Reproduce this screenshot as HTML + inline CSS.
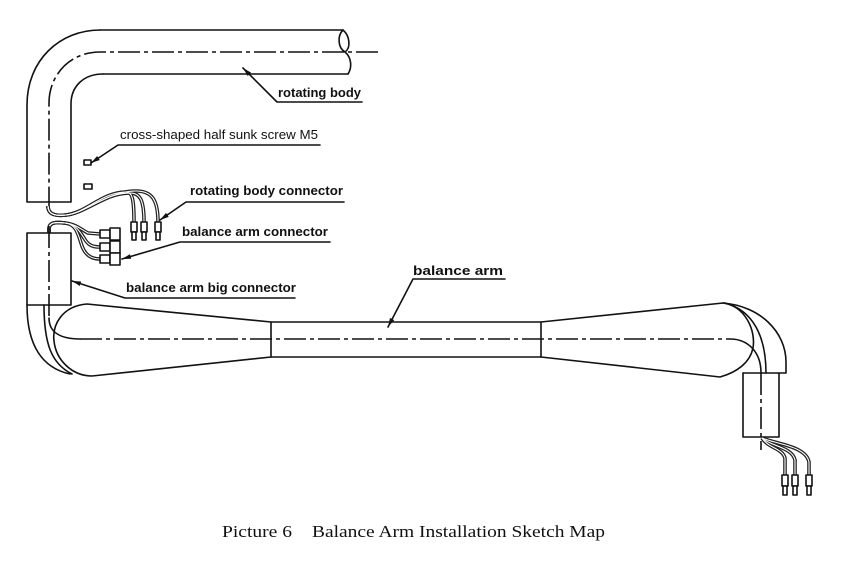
<!DOCTYPE html>
<html><head><meta charset="utf-8"><style>
html,body{margin:0;padding:0;background:#fff;}
svg{display:block;}
.l{fill:none;stroke:#111;stroke-width:1.6;stroke-linecap:round;stroke-linejoin:round;}
.c{fill:none;stroke:#111;stroke-width:1.6;stroke-dasharray:22 4 4 4;}
.w1{fill:none;stroke:#222;stroke-width:3.6;}
.w2{fill:none;stroke:#fff;stroke-width:1.1;}
.lb{font-family:"Liberation Sans",Arial,sans-serif;font-size:13px;font-weight:bold;fill:#111;}
.ln{font-family:"Liberation Sans",Arial,sans-serif;font-size:13px;fill:#111;}
.cap{font-family:"Liberation Serif","Times New Roman",serif;font-size:17px;fill:#111;}
</style></head><body>
<svg width="855" height="583" viewBox="0 0 855 583" xmlns="http://www.w3.org/2000/svg">
<defs>
<marker id="a" markerUnits="userSpaceOnUse" markerWidth="10" markerHeight="8" refX="9" refY="3" orient="auto">
<path d="M0,0.6 L9,3 L0,5.4 z" fill="#111"/>
</marker>
</defs>
<rect width="855" height="583" fill="#fff"/>

<!-- top rotating body pipe -->
<path class="l" d="M100,30 L343,30"/>
<path class="l" d="M103,74 L348,74"/>
<path class="l" d="M343,30 C337,36 338,48 345,52 M343,30 C350,36 351,48 345,52 C352,58 352,68 348,74"/>
<path class="l" d="M100,30 C60,30 27,60 27,105 L27,202 L71,202 L71,104 C71,86 84,74 103,74"/>
<path class="c" d="M378,52 L100,52 C70,52 49,75 49,103 L49,210"/>

<!-- screws -->
<rect x="84" y="160" width="7" height="5" class="l"/>
<rect x="84" y="184" width="8" height="5" class="l" fill="#111"/>

<!-- top wires -->
<g>
<path class="w1" d="M48,206 C48,215 56,216 66,215 C86,213 102,192 126,192 C132,192 134,198 134,222"/>
<path class="w1" d="M48,206 C48,215 56,216 66,215 C86,213 104,193 130,193 C140,193 144,200 144,222"/>
<path class="w1" d="M48,206 C48,215 56,216 66,215 C86,213 108,191 136,191 C152,191 158,200 158,222"/>
<path class="w2" d="M48,206 C48,215 56,216 66,215 C86,213 102,192 126,192 C132,192 134,198 134,222"/>
<path class="w2" d="M48,206 C48,215 56,216 66,215 C86,213 104,193 130,193 C140,193 144,200 144,222"/>
<path class="w2" d="M48,206 C48,215 56,216 66,215 C86,213 108,191 136,191 C152,191 158,200 158,222"/>
</g>
<g class="l">
<rect x="131" y="222" width="6" height="10" fill="#fff"/><rect x="132" y="232" width="4" height="8" fill="#fff"/>
<rect x="141" y="222" width="6" height="10" fill="#fff"/><rect x="142" y="232" width="4" height="8" fill="#fff"/>
<rect x="155" y="222" width="6" height="10" fill="#fff"/><rect x="156" y="232" width="4" height="8" fill="#fff"/>
</g>

<!-- lower wires to balance arm connector -->
<g>
<path class="w1" d="M49,233 L49,229 C49,222 56,222 65,223 C76,224 82,230 88,233 L100,234"/>
<path class="w1" d="M49,233 L49,229 C49,222 56,222 65,223 C76,224 80,232 84,238 C88,245 92,247 100,247"/>
<path class="w1" d="M49,233 L49,229 C49,222 56,222 65,223 C76,224 78,234 81,243 C84,254 90,259 100,259"/>
<path class="w2" d="M49,233 L49,229 C49,222 56,222 65,223 C76,224 82,230 88,233 L100,234"/>
<path class="w2" d="M49,233 L49,229 C49,222 56,222 65,223 C76,224 80,232 84,238 C88,245 92,247 100,247"/>
<path class="w2" d="M49,233 L49,229 C49,222 56,222 65,223 C76,224 78,234 81,243 C84,254 90,259 100,259"/>
</g>
<g class="l">
<rect x="100" y="230" width="10" height="8" fill="#fff"/><rect x="110" y="228" width="10" height="12" fill="#fff"/>
<rect x="100" y="243" width="10" height="8" fill="#fff"/><rect x="110" y="241" width="10" height="12" fill="#fff"/>
<rect x="100" y="255" width="10" height="8" fill="#fff"/><rect x="110" y="253" width="10" height="12" fill="#fff"/>
</g>

<!-- lower left box & elbow -->
<path class="l" d="M27,305 L27,233 L71,233 L71,305 M27,305 L71,305"/>
<path class="l" d="M27,305 C27,345 42,368 70,374"/>
<path class="l" d="M44,305 C44,345 52,364 72,374"/>

<!-- balance arm body -->
<path class="l" d="M271,322 L87,304 C62,306 52,325 54,341 C56,360 72,376 92,376 L271,357"/>
<path class="l" d="M271,322 L541,322 M271,357 L541,357 M271,322 L271,357 M541,322 L541,357"/>
<path class="l" d="M541,322 L723,303 C745,306 756,330 753,348 C750,362 738,372 720,377 L541,357"/>
<path class="l" d="M49,318 C49,332 60,339 80,339"/>
<path class="c" d="M49,226 L49,318 M80,339 L730,339"/>
<path class="l" d="M730,339 C748,339 761,352 761,373"/>
<path class="c" d="M761,373 L761,450"/>

<!-- right elbow -->
<path class="l" d="M723,303 C760,306 786,332 786,362 L786,373 L743,373"/>
<path class="l" d="M725,303 C752,310 766,335 766,373"/>
<path class="l" d="M743,373 L743,437 L779,437 L779,373"/>

<!-- right wires -->
<g>
<path class="w1" d="M762,438 C768,448 782,448 785,458 L785,475"/>
<path class="w1" d="M762,438 C770,446 792,447 795,460 L795,475"/>
<path class="w1" d="M762,438 C776,444 806,446 809,462 L809,475"/>
<path class="w2" d="M762,438 C768,448 782,448 785,458 L785,475"/>
<path class="w2" d="M762,438 C770,446 792,447 795,460 L795,475"/>
<path class="w2" d="M762,438 C776,444 806,446 809,462 L809,475"/>
</g>
<g class="l">
<rect x="782" y="475" width="6" height="11" fill="#fff"/><rect x="783" y="486" width="4" height="9" fill="#fff"/>
<rect x="792" y="475" width="6" height="11" fill="#fff"/><rect x="793" y="486" width="4" height="9" fill="#fff"/>
<rect x="806" y="475" width="6" height="11" fill="#fff"/><rect x="807" y="486" width="4" height="9" fill="#fff"/>
</g>

<!-- leaders -->
<path class="l" d="M362,102 L277,102 L243,68" marker-end="url(#a)"/>
<path class="l" d="M320,145 L118,145 L91,163" marker-end="url(#a)"/>
<path class="l" d="M344,202 L186,202 L160,220" marker-end="url(#a)"/>
<path class="l" d="M330,242 L180,242 L122,259" marker-end="url(#a)"/>
<path class="l" d="M295,298 L125,298 L72,281" marker-end="url(#a)"/>
<path class="l" d="M505,279 L413,279 L388,327" marker-end="url(#a)"/>

<!-- labels -->
<text class="lb" x="278" y="97" textLength="83" lengthAdjust="spacingAndGlyphs">rotating body</text>
<text class="ln" x="120" y="139" textLength="198" lengthAdjust="spacingAndGlyphs">cross-shaped half sunk screw M5</text>
<text class="lb" x="190" y="195" textLength="153" lengthAdjust="spacingAndGlyphs">rotating body connector</text>
<text class="lb" x="182" y="236" textLength="146" lengthAdjust="spacingAndGlyphs">balance arm connector</text>
<text class="lb" x="126" y="292" textLength="170" lengthAdjust="spacingAndGlyphs">balance arm big connector</text>
<text class="lb" x="413" y="275" textLength="90" lengthAdjust="spacingAndGlyphs">balance arm</text>

<!-- caption -->
<text class="cap" x="222" y="537" textLength="70" lengthAdjust="spacingAndGlyphs">Picture 6</text>
<text class="cap" x="312" y="537" textLength="293" lengthAdjust="spacingAndGlyphs">Balance Arm Installation Sketch Map</text>
</svg>
</body></html>
